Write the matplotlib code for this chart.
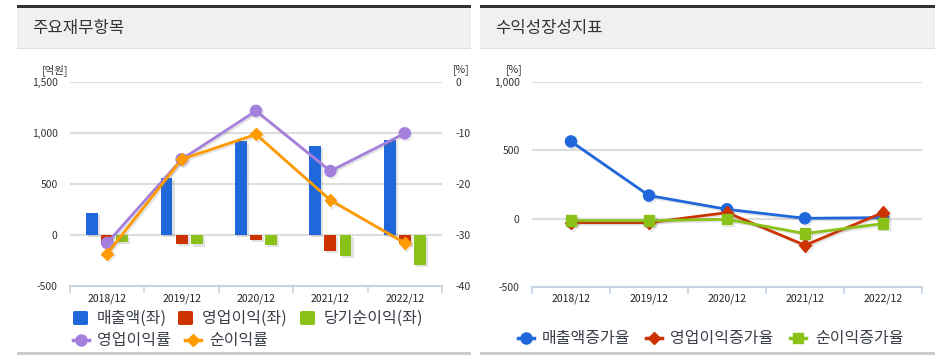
import matplotlib
matplotlib.use("Agg")
import matplotlib.pyplot as plt
import matplotlib.patheffects as pe
from matplotlib.patches import Rectangle, FancyBboxPatch
from matplotlib.lines import Line2D
import numpy as np

plt.rcParams['font.family'] = ['Noto Sans CJK KR', 'DejaVu Sans']
plt.rcParams['axes.unicode_minus'] = False

# ---------------- data ----------------
years = ['2018/12', '2019/12', '2020/12', '2021/12', '2022/12']
sales = [220, 560, 920, 878, 935]            # 매출액(좌) 억원
op_income = [-68, -85, -42, -150, -90]       # 영업이익(좌)
net_income = [-62, -90, -97, -205, -293]     # 당기순이익(좌)
op_margin = [-31.5, -15.1, -5.6, -17.4, -10.0]   # 영업이익률 %
net_margin = [-33.6, -15.1, -10.2, -23.1, -31.5]  # 순이익률 %

sales_growth = [566, 169, 68, 2, 7]          # 매출액증가율
op_growth = [-30, -30, 44, -196, 44]         # 영업이익증가율
net_growth = [-15, -15, -5, -110, -37]       # 순이익증가율

left_yticks = [-500, 0, 500, 1000, 1500]
left_yticklabels = ['-500', '0', '500', '1,000', '1,500']
right_yticks = [-40, -30, -20, -10, 0]
growth_yticks = [-500, 0, 500, 1000]
growth_yticklabels = ['-500', '0', '500', '1,000']

BLUE = '#2167dc'
RED = '#cc3300'
GREEN = '#8bc21a'
PURPLE = '#a57fdc'
ORANGE = '#ff9a00'
TXT = '#333333'
GRID = '#dddddd'
AXLINE = '#c5d3e2'

W, H = 940, 358
fig = plt.figure(figsize=(W / 100, H / 100), dpi=100)
fig.patch.set_facecolor('white')


def fx(px):
    return px / W


def fy(py):
    return 1 - py / H


def add_rect(x0, y0, x1, y1, color):
    fig.patches.append(Rectangle((fx(x0), fy(y1)), fx(x1) - fx(x0), fy(y0) - fy(y1),
                                 transform=fig.transFigure, facecolor=color,
                                 edgecolor='none', zorder=0))


# ---------------- panel frames ----------------
for (x0, x1, title) in [(17, 471, '주요재무항목'), (480, 935, '수익성장성지표')]:
    add_rect(x0, 7, x1, 48, '#f0f0f0')
    add_rect(x0, 5, x1, 7.5, '#333333')
    add_rect(x0, 47.5, x1, 49, '#dddddd')
    add_rect(x0, 352, x1, 354.5, '#cccccc')
    fig.text(fx(x0 + 15), fy(28), title, fontsize=12, color=TXT, va='center', ha='left')


def style_axis(ax, ncat):
    for s in ['top', 'left', 'right']:
        ax.spines[s].set_visible(False)
    ax.spines['bottom'].set_color(AXLINE)
    ax.spines['bottom'].set_linewidth(1.5)
    ax.set_xlim(-0.5, ncat - 0.5)
    ax.set_xticks(np.arange(-0.5, ncat, 1.0))
    ax.set_xticklabels([])
    ax.tick_params(axis='x', which='major', length=5, width=1.2, color=AXLINE, direction='out')
    ax.set_xticks(np.arange(ncat), minor=True)
    ax.set_xticklabels(years, minor=True, fontsize=7.5, color='#222222')
    ax.tick_params(axis='x', which='minor', length=0, pad=5)
    ax.tick_params(axis='y', length=0, labelsize=7.5, labelcolor=TXT)
    ax.grid(axis='y', color=GRID, linewidth=1.5)
    ax.set_axisbelow(True)
    ax.set_facecolor('none')


x = np.arange(len(years))

# ---------------- left chart ----------------
ax = fig.add_axes([fx(70), fy(286.3), fx(442) - fx(70), fy(82.3) - fy(286.3)])
style_axis(ax, len(years))
ax.set_ylim(-500, 1500)
ax.set_yticks(left_yticks)
ax.set_yticklabels(left_yticklabels)
ax.tick_params(axis='y', pad=9)

bw = 0.16
off = 0.203
shadow = [pe.SimplePatchShadow(offset=(1.5, -1.5), shadow_rgbFace='#888888', alpha=0.25), pe.Normal()]
ax.bar(x - off, sales, width=bw, color=BLUE, path_effects=shadow, zorder=3)
ax.bar(x, op_income, width=bw, color=RED, path_effects=shadow, zorder=3)
ax.bar(x + off, net_income, width=bw, color=GREEN, path_effects=shadow, zorder=3)

ax2 = ax.twinx()
ax2.set_ylim(-40, 0)
ax2.set_yticks(right_yticks)
for s in ['top', 'left', 'right', 'bottom']:
    ax2.spines[s].set_visible(False)
ax2.tick_params(axis='y', length=0, labelsize=7.5, labelcolor=TXT, pad=10)
lshadow = [pe.SimpleLineShadow(offset=(1.2, -1.2), shadow_color='#777777', alpha=0.2), pe.Normal()]
ax2.plot(x, op_margin, color=PURPLE, lw=2, marker='o', ms=8, zorder=4, path_effects=lshadow)
ax2.plot(x, net_margin, color=ORANGE, lw=2, marker='D', ms=6, zorder=5, path_effects=lshadow)

fig.text(fx(42), fy(70), '[억원]', fontsize=7.5, color=TXT, ha='left', va='center')
fig.text(fx(453), fy(70), '[%]', fontsize=7.5, color=TXT, ha='left', va='center')

# ---------------- right chart ----------------
bx = fig.add_axes([fx(532), fy(286.7), fx(922) - fx(532), fy(82.3) - fy(286.7)])
style_axis(bx, len(years))
bx.set_ylim(-500, 1000)
bx.set_yticks(growth_yticks)
bx.set_yticklabels(growth_yticklabels)
bx.tick_params(axis='y', pad=9)
bx.plot(x, sales_growth, color=BLUE, lw=2, marker='o', ms=8, zorder=3, path_effects=lshadow)
bx.plot(x, op_growth, color=RED, lw=2, marker='D', ms=6.5, zorder=4, path_effects=lshadow)
bx.plot(x, net_growth, color=GREEN, lw=2, marker='s', ms=7.5, zorder=5, path_effects=lshadow)
fig.text(fx(506), fy(70), '[%]', fontsize=7.5, color=TXT, ha='left', va='center')

# ---------------- legends ----------------
LEG_FS = 11.5
LEG_TXT = '#3a3f4a'


def leg_square(px, py, color, label):
    fig.patches.append(FancyBboxPatch((fx(px), fy(py + 7)), fx(15), 14 / H,
                                      boxstyle='round,pad=0,rounding_size=0.003',
                                      transform=fig.transFigure, facecolor=color,
                                      edgecolor='none'))
    fig.text(fx(px + 24), fy(py), label, fontsize=LEG_FS, color=LEG_TXT, ha='left', va='center')


def leg_line(px, py, color, marker, ms, label, tx):
    fig.lines.append(Line2D([fx(px), fx(px + 16)], [fy(py), fy(py)], transform=fig.transFigure,
                            color=color, lw=2.5))
    fig.lines.append(Line2D([fx(px + 8)], [fy(py)], transform=fig.transFigure,
                            color=color, marker=marker, ms=ms, lw=0))
    fig.text(fx(tx), fy(py), label, fontsize=LEG_FS, color=LEG_TXT, ha='left', va='center')


leg_square(73, 318, BLUE, '매출액(좌)')
leg_square(178, 318, RED, '영업이익(좌)')
leg_square(300, 318, GREEN, '당기순이익(좌)')
leg_line(73, 340, PURPLE, 'o', 8, '영업이익률', 97)
leg_line(185, 340, ORANGE, 'D', 6, '순이익률', 209)

leg_line(518, 338, BLUE, 'o', 8, '매출액증가율', 542)
leg_line(646, 338, RED, 'D', 6, '영업이익증가율', 670)
leg_line(790, 338, GREEN, 's', 7, '순이익증가율', 815)

fig.savefig('out.png', dpi=100, facecolor='white')
